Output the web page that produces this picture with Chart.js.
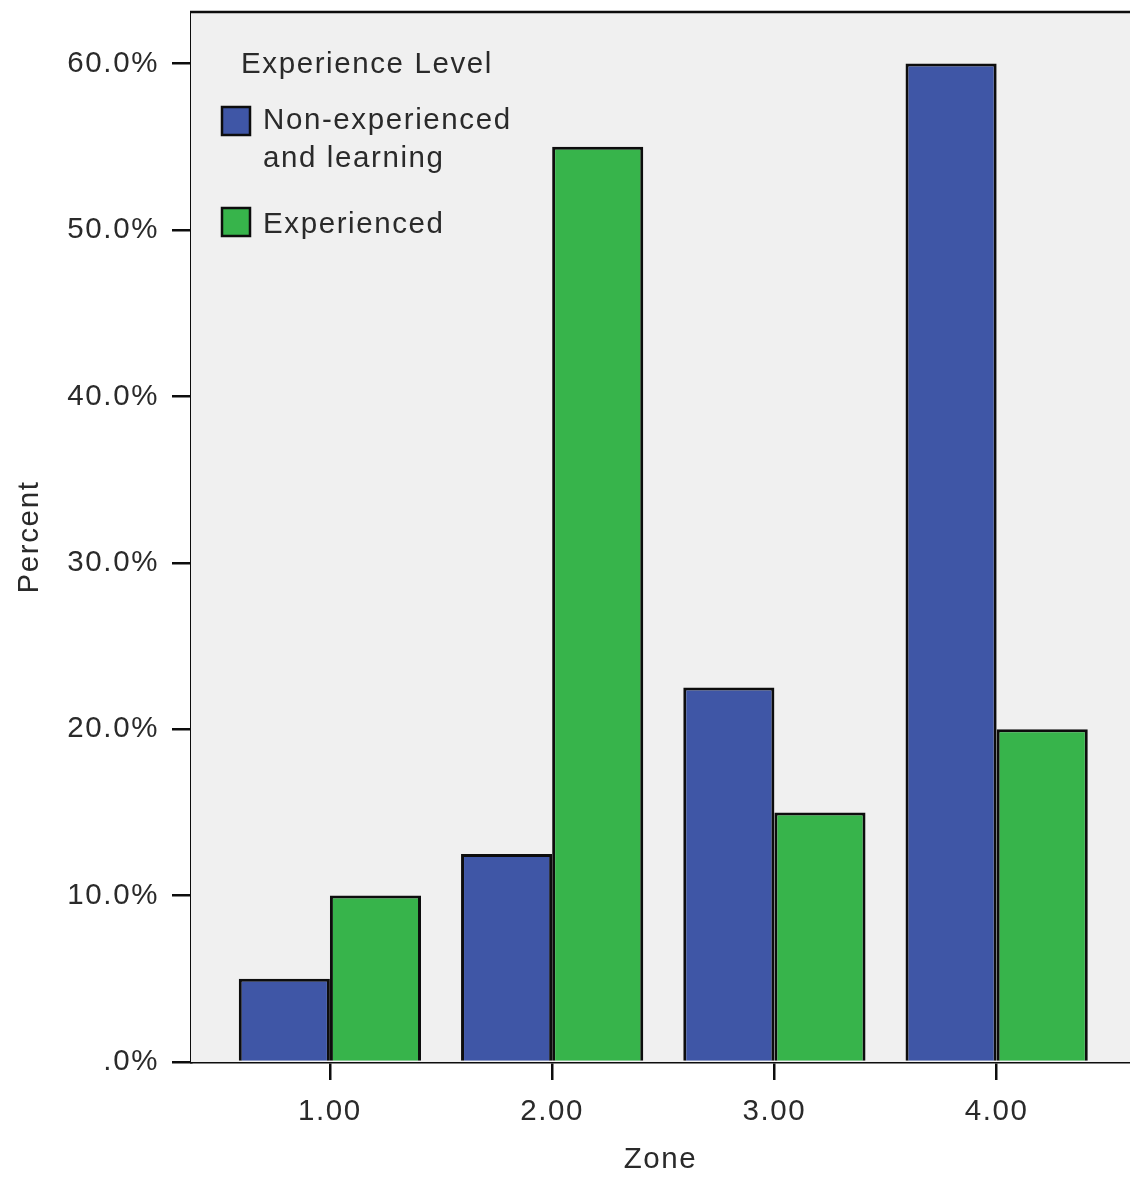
<!DOCTYPE html>
<html>
<head>
<meta charset="utf-8">
<script src="https://cdn.jsdelivr.net/npm/chart.js@4.4.1/dist/chart.umd.min.js"></script>
<style>
html,body{margin:0;padding:0;background:#ffffff;}
#wrap{width:1130px;height:1178px;position:relative;}
</style>
</head>
<body>
<div id="wrap"><canvas id="c"></canvas></div>
<script>
// ---- data ----
const zones = [1, 2, 3, 4];
const zoneLabels = ['1.00', '2.00', '3.00', '4.00'];
const seriesNames = ['Non-experienced and learning', 'Experienced'];
const nonExperienced = [5.0, 12.5, 22.5, 60.0];
const experienced = [10.0, 55.0, 15.0, 20.0];
const yTickValues = [0, 10, 20, 30, 40, 50, 60];
const yTickLabels = ['.0%', '10.0%', '20.0%', '30.0%', '40.0%', '50.0%', '60.0%'];
const legendTitle = 'Experience Level';
const legendLines = [['Non-experienced', 'and learning'], ['Experienced']];
const xTitle = 'Zone';
const yTitle = 'Percent';

// ---- style ----
const FONT = '"Liberation Sans", Arial, Helvetica, sans-serif';
const TXT = '#2a2a2a';
const LINE = '#0d0d0d';
const BLUE = '#3f56a6';
const GREEN = '#37b44b';
const BG = '#f0f0f0';
const SPACING = '1.6px';

const spacingPlugin = {
  id: 'spacing',
  beforeLayout(chart) { try { chart.ctx.letterSpacing = SPACING; } catch (e) {} },
  beforeDraw(chart) { try { chart.ctx.letterSpacing = SPACING; } catch (e) {} }
};

const bgPlugin = {
  id: 'plotBg',
  beforeDatasetsDraw(chart) {
    const {ctx, chartArea: a} = chart;
    ctx.save();
    ctx.fillStyle = BG;
    ctx.fillRect(a.left, a.top, a.right - a.left, a.bottom - a.top);
    ctx.restore();
  },
  afterDraw(chart) {
    const {ctx, chartArea: a} = chart;
    ctx.save();
    ctx.strokeStyle = LINE;
    ctx.lineWidth = 2.5;
    ctx.beginPath();
    ctx.moveTo(a.left - 1, a.top);
    ctx.lineTo(a.right, a.top);
    ctx.stroke();
    ctx.restore();
  }
};

const legendPlugin = {
  id: 'innerLegend',
  afterDraw(chart) {
    const {ctx, chartArea: a} = chart;
    const L = a.left, T = a.top;
    ctx.save();
    try { ctx.letterSpacing = SPACING; } catch (e) {}
    ctx.font = '29.5px ' + FONT;
    ctx.fillStyle = TXT;
    ctx.textBaseline = 'alphabetic';
    ctx.textAlign = 'left';
    ctx.fillText(legendTitle, L + 50, T + 61);
    const boxY = [T + 95, T + 196];
    const lineBase = [[T + 117, T + 155], [T + 221]];
    chart.data.datasets.forEach((ds, i) => {
      ctx.fillStyle = ds.backgroundColor;
      ctx.fillRect(L + 31, boxY[i], 28, 28);
      ctx.strokeStyle = LINE;
      ctx.lineWidth = 2.5;
      ctx.strokeRect(L + 31, boxY[i], 28, 28);
      ctx.fillStyle = TXT;
      legendLines[i].forEach((t, j) => ctx.fillText(t, L + 72, lineBase[i][j]));
    });
    ctx.restore();
  }
};

const toXY = (vals) => zones.map((z, i) => ({x: z, y: vals[i]}));

new Chart(document.getElementById('c'), {
  type: 'bar',
  data: {
    datasets: [
      {label: seriesNames[0], data: toXY(nonExperienced), backgroundColor: BLUE,
       borderColor: LINE, borderWidth: 3},
      {label: seriesNames[1], data: toXY(experienced), backgroundColor: GREEN,
       borderColor: LINE, borderWidth: 3}
    ]
  },
  options: {
    responsive: true,
    maintainAspectRatio: false,
    animation: false,
    events: [],
    categoryPercentage: 0.82,
    barPercentage: 1.0,
    layout: {padding: {left: 0, right: 0, top: 12, bottom: 0}},
    plugins: {legend: {display: false}, tooltip: {enabled: false}},
    scales: {
      x: {
        type: 'linear',
        min: 0.375,
        max: 4.6,
        offset: false,
        afterBuildTicks(scale) { scale.ticks = zones.map(v => ({value: v})); },
        afterFit(scale) { scale.height = 116; scale.paddingLeft = 0; scale.paddingRight = 0; },
        ticks: {
          autoSkip: false, maxRotation: 0, padding: 14,
          color: TXT, font: {family: FONT, size: 29.5},
          callback: (v, i) => zoneLabels[i]
        },
        grid: {display: true, drawOnChartArea: false, drawTicks: true, tickLength: 18,
               color: LINE, lineWidth: 2.5, offset: false},
        border: {display: true, color: LINE, width: 2.5},
        title: {display: true, text: xTitle, color: TXT, font: {family: FONT, size: 29.5},
                padding: {top: 0, bottom: 0}}
      },
      y: {
        type: 'linear',
        min: 0,
        max: 63.1,
        afterBuildTicks(scale) { scale.ticks = yTickValues.map(v => ({value: v})); },
        afterFit(scale) { scale.width = 191; scale.paddingTop = 0; scale.paddingBottom = 0; },
        ticks: {
          padding: 13, color: TXT, font: {family: FONT, size: 29.5},
          callback: (v, i) => yTickLabels[i]
        },
        grid: {display: true, drawOnChartArea: false, drawTicks: true, tickLength: 19,
               color: LINE, lineWidth: 2.5},
        border: {display: true, color: LINE, width: 2.5},
        title: {display: true, text: yTitle, color: TXT, font: {family: FONT, size: 29.5},
                padding: {top: 12, bottom: 0}}
      }
    }
  },
  plugins: [spacingPlugin, bgPlugin, legendPlugin]
});
</script>
</body>
</html>
